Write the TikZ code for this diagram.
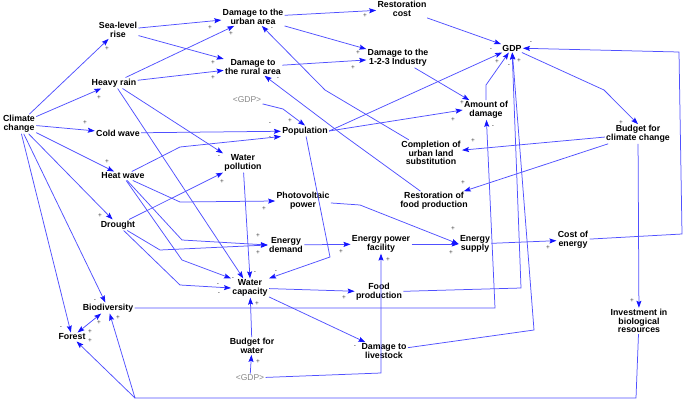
\documentclass[tikz,border=0pt]{standalone}
\usepackage{fontspec}
\setmainfont{Liberation Sans}
\usetikzlibrary{arrows.meta,calc}
\definecolor{lnblue}{RGB}{80,80,255}
\definecolor{tipblue}{RGB}{20,20,255}
\definecolor{ghostgray}{RGB}{135,135,135}
\newcommand{\sgnat}[3]{\node[sgn] (#1) at (#2) {#3};}
\tikzset{
  var/.style={font=\bfseries\fontsize{8.8}{8.6}\selectfont, align=center, inner sep=1.2pt, text=black},
  ghost/.style={font=\fontsize{8.5}{8.5}\selectfont, text=ghostgray, inner sep=1.2pt},
  sgn/.style={font=\fontsize{6.5}{6.5}\selectfont, inner sep=0pt, text=black!75},
  lnk/.style={draw=lnblue, line width=0.75pt, ->, >={Stealth[length=7pt,width=5pt,inset=1.2pt,color=tipblue]}},
  lnkb/.style={draw=lnblue, line width=0.75pt},
}
\begin{document}
\begin{tikzpicture}[x=1pt,y=-1pt]
\useasboundingbox (0,0) rectangle (685,402);
% variables
\node[var] (cc) at (19,124) {Climate\\change};
\node[var] (slr) at (118,30) {Sea-level\\rise};
\node[var] (hr) at (114,83) {Heavy rain};
\node[var] (cw) at (118,133) {Cold wave};
\node[var] (hw) at (123,176) {Heat wave};
\node[var] (dr) at (118,225) {Drought};
\node[var] (bio) at (108,308) {Biodiversity};
\node[var] (for) at (72,337) {Forest};
\node[var] (dua) at (253,17) {Damage to the\\urban area};
\node[var] (dra) at (253,67) {Damage to\\the rural area};
\node[var] (rc) at (402,9) {Restoration\\cost};
\node[var] (d123) at (398,58) {Damage to the\\1-2-3 Industry};
\node[ghost] (gdp1) at (247,100) {<GDP>};
\node[var] (pop) at (305,131) {Population};
\node[var] (gdp) at (512,48) {GDP};
\node[var] (aod) at (486,110) {Amount of\\damage};
\node[var] (bcc) at (638,134) {Budget for\\climate change};
\node[var] (wp) at (243,163) {Water\\pollution};
\node[var] (cul) at (431,153) {Completion of\\urban land\\substitution};
\node[var] (rfp) at (434,201) {Restoration of\\food production};
\node[var] (pv) at (303,201) {Photovoltaic\\power};
\node[var] (ed) at (286,245) {Energy\\demand};
\node[var] (epf) at (381,244) {Energy power\\facility};
\node[var] (es) at (475,244) {Energy\\supply};
\node[var] (coe) at (573,240) {Cost of\\energy};
\node[var] (wc) at (250,288) {Water\\capacity};
\node[var] (fp) at (379,292) {Food\\production};
\node[var] (bfw) at (252,346) {Budget for\\water};
\node[ghost] (gdp2) at (250,378) {<GDP>};
\node[var] (dl) at (384,351) {Damage to\\livestock};
\node[var] (ibr) at (639,321) {Investment in\\biological\\resources};
\coordinate (jn) at (135,398);
% connectors
\draw[lnk] (cc) -- (slr);
\draw[lnk] (cc) -- (hr);
\draw[lnk] (cc) -- (cw);
\draw[lnk] (cc) -- (hw);
\draw[lnk] (cc) -- (dr);
\draw[lnk] (cc) -- (bio);
\draw[lnk] (cc) -- (for);
\draw[lnk] (slr) -- (dua);
\draw[lnk] (slr) -- (dra);
\draw[lnk] (hr) -- (dua);
\draw[lnk] (hr) -- (dra);
\draw[lnk] (hr) -- (wp.north west);
\draw[lnk] (hr) -- (wc.125);
\draw[lnk] (cw) -- (pop);
\draw[lnk] (hw) -- (180,147) -- (pop.south west);
\draw[lnk] (hw) -- (180,202) -- (pv.west);
\draw[lnk] (hw) -- (182,240) -- (ed.west);
\draw[lnk] (hw) -- (182,260) -- (wc.north west);
\draw[lnk] (dr) -- (wp.south west);
\draw[lnk] (dr) -- (160,250) -- (ed.west);
\draw[lnk] (dr) -- (180,285) -- (wc.west);
\draw[lnk] (wp) -- (wc.north);
\draw[lnk] (gdp1) -- (283,109) -- (pop.north);
\draw[lnk] (pop.east) -- (gdp);
\draw[lnk] (pop.east) -- (aod.west);
\draw[lnk] (pop) -- (330,257) -- (wc.north east);
\draw[lnk] (dua) -- (rc);
\draw[lnk] (dua) -- (d123);
\draw[lnk] (dra) -- (d123);
\draw[lnk] (rc) -- (gdp);
\draw[lnk] (d123) -- (aod);
\draw[lnk] (aod) -- (486,85) -- (gdp);
\draw[lnk] (gdp) -- (604,90) -- (bcc.north);
\draw[lnk] (bcc) -- (cul);
\draw[lnk] (bcc) -- (rfp);
\draw[lnk] (cul) -- (325,90) -- (dua);
\draw[lnk] (rfp) -- (343,135) -- (dra);
\draw[lnk] (pv) -- (360,205) -- (es.west);
\draw[lnk] (ed) -- (epf);
\draw[lnk] (epf) -- (es);
\draw[lnk] (es) -- (coe);
\draw[lnk] (coe) -- (682,234) -- (679,52) -- (gdp);
\draw[lnk] (bcc) -- (ibr);
\draw[lnk] (ibr) -- (636,398) -- (jn) -- (bio);
\draw[lnk] (jn) -- (for);
\draw[lnk,<->] (bio) -- (for);
\draw[lnk] (bio) -- (495,308) -- (aod);
\draw[lnk] (fp) -- (521,288) -- (gdp);
\draw[lnk] (dl) -- (534,330) -- (gdp);
\draw[lnk] (wc) -- (fp);
\draw[lnk] (wc) -- (dl);
\draw[lnk] (gdp2) -- (bfw);
\draw[lnk] (bfw) -- (wc);
\draw[lnk] (gdp2) -- (381,373) -- (epf);
% polarity signs
\sgnat{s1}{107,49}{+}
\sgnat{s2}{99,98}{+}
\sgnat{s3}{85,123}{+}
\sgnat{s4}{107,162}{+}
\sgnat{s5}{100,216}{+}
\sgnat{s6}{95,301}{-}
\sgnat{s7}{61,328}{-}
\sgnat{s8}{210,28}{+}
\sgnat{s9}{231,34}{+}
\sgnat{s10}{213,63}{+}
\sgnat{s11}{213,78}{+}
\sgnat{s12}{219,157}{-}
\sgnat{s13}{233,279}{-}
\sgnat{s14}{255,273}{-}
\sgnat{s15}{218,285}{-}
\sgnat{s16}{219,294}{-}
\sgnat{s17}{276,272}{-}
\sgnat{s18}{270,124}{-}
\sgnat{s19}{270,138}{-}
\sgnat{s20}{290,121}{+}
\sgnat{s21}{264,209}{+}
\sgnat{s22}{258,236}{+}
\sgnat{s23}{258,253}{+}
\sgnat{s24}{222,182}{+}
\sgnat{s25}{365,16}{+}
\sgnat{s26}{358,53}{+}
\sgnat{s27}{353,68}{+}
\sgnat{s28}{491,50}{-}
\sgnat{s29}{497,62}{+}
\sgnat{s30}{509,66}{-}
\sgnat{s31}{519,61}{+}
\sgnat{s32}{531,43}{-}
\sgnat{s33}{453,120}{+}
\sgnat{s34}{462,103}{+}
\sgnat{s35}{493,127}{-}
\sgnat{s36}{621,123}{+}
\sgnat{s37}{473,141}{+}
\sgnat{s38}{463,183}{+}
\sgnat{s39}{272,29}{-}
\sgnat{s40}{278,79}{-}
\sgnat{s41}{453,229}{+}
\sgnat{s42}{451,253}{+}
\sgnat{s43}{341,252}{+}
\sgnat{s44}{548,248}{+}
\sgnat{s45}{632,301}{+}
\sgnat{s46}{118,318}{+}
\sgnat{s47}{99,323}{+}
\sgnat{s48}{90,332}{+}
\sgnat{s49}{90,341}{+}
\sgnat{s50}{344,298}{+}
\sgnat{s51}{355,347}{-}
\sgnat{s52}{258,362}{+}
\sgnat{s53}{257,304}{+}
\sgnat{s54}{388,260}{+}
\end{tikzpicture}
\end{document}
